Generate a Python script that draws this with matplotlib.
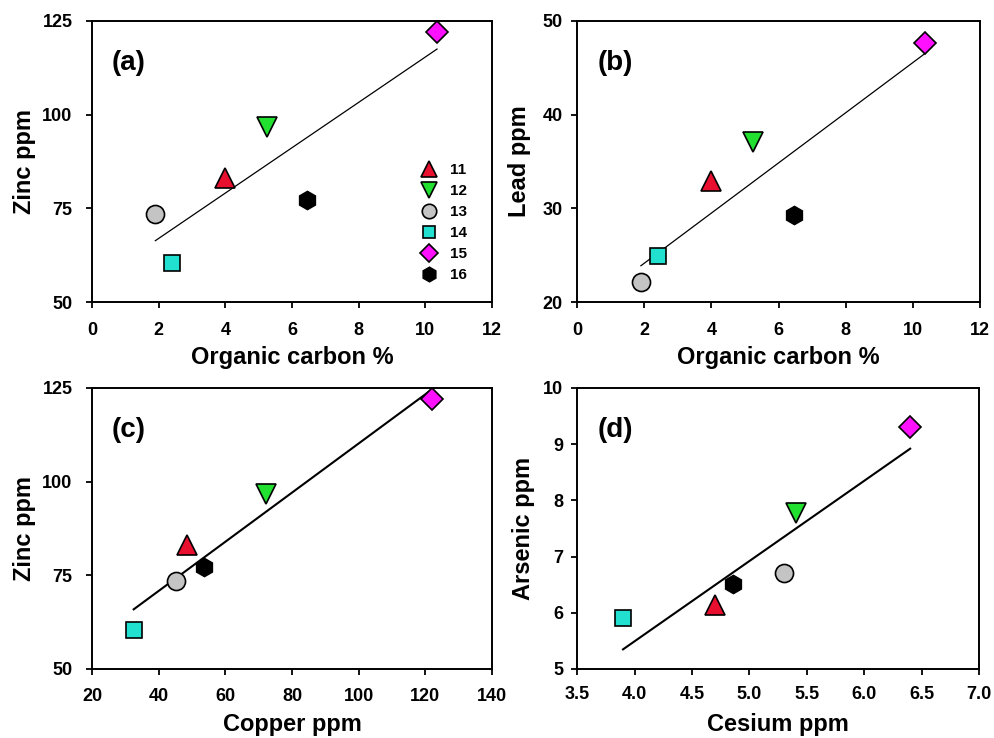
import numpy as np
import matplotlib
matplotlib.use('Agg')
import matplotlib.pyplot as plt

plt.rcParams['font.family'] = ['Liberation Sans', 'DejaVu Sans']
plt.rcParams['font.weight'] = 'bold'

sites = ['11', '12', '13', '14', '15', '16']
markers = ['^', 'v', 'o', 's', 'D', 'h']
colors = ['#e8102e', '#22e030', '#c4c4c4', '#22e0d0', '#ff10ff', '#000000']

# values
org_carbon = [4.0, 5.25, 1.9, 2.4, 10.35, 6.45]
zinc = [83.0, 96.7, 73.6, 60.4, 122.0, 77.2]
lead = [32.9, 37.1, 22.2, 24.9, 47.6, 29.3]
copper = [48.5, 72.3, 45.3, 32.5, 122.0, 53.5]
cesium = [4.70, 5.41, 5.30, 3.90, 6.40, 4.86]
arsenic = [6.13, 7.78, 6.70, 5.90, 9.31, 6.51]

panels = [
    ('(a)', org_carbon, zinc, 'Organic carbon %', 'Zinc ppm', (0, 12), np.arange(0, 13, 2), (50, 125), [50, 75, 100, 125], 0.9),
    ('(b)', org_carbon, lead, 'Organic carbon %', 'Lead ppm', (0, 12), np.arange(0, 13, 2), (20, 50), [20, 30, 40, 50], 0.9),
    ('(c)', copper, zinc, 'Copper ppm', 'Zinc ppm', (20, 140), np.arange(20, 141, 20), (50, 125), [50, 75, 100, 125], 1.5),
    ('(d)', cesium, arsenic, 'Cesium ppm', 'Arsenic ppm', (3.5, 7.0), np.arange(3.5, 7.01, 0.5), (5, 10), [5, 6, 7, 8, 9, 10], 1.5),
]

positions = [
    [0.0925, 0.5904, 0.402, 0.3816],
    [0.580, 0.5904, 0.405, 0.3816],
    [0.0925, 0.0935, 0.402, 0.381],
    [0.580, 0.0935, 0.404, 0.381],
]
ylabel_x = [-0.14, -0.115, -0.14, -0.105]
ypad = [10, 6.5, 10, 6]
xpad = [10, 10, 10, 8]

fig = plt.figure(figsize=(9.95, 7.38), dpi=100)

for i, (tag, xv, yv, xlab, ylab, xlim, xt, ylim, yt, lw) in enumerate(panels):
    ax = fig.add_axes(positions[i])
    # regression line over the data range
    k, b = np.polyfit(xv, yv, 1)
    xx = np.array([min(xv), max(xv)])
    ax.plot(xx, k * xx + b, color='black', lw=lw, zorder=2)
    for j in range(len(sites)):
        if markers[j] in ('^', 'v'):
            ms = 14
        elif markers[j] in ('s', 'D'):
            ms = 11.5
        else:
            ms = 13
        ax.plot(xv[j], yv[j], marker=markers[j], ms=ms, color=colors[j],
                mec='black', mew=1.2, ls='none', label=sites[j], zorder=3)
    ax.set_xlim(xlim)
    ax.set_ylim(ylim)
    ax.set_xticks(xt)
    ax.set_yticks(yt)
    if tag == '(d)':
        ax.set_xticklabels(['%.1f' % t for t in xt])
    else:
        ax.set_xticklabels(['%d' % t for t in xt])
    ax.tick_params(direction='out', length=4, width=1.3, labelsize=13)
    ax.tick_params(axis='y', pad=ypad[i])
    ax.tick_params(axis='x', pad=xpad[i])
    for lab in ax.get_xticklabels() + ax.get_yticklabels():
        lab.set_fontweight('bold')
    for s in ax.spines.values():
        s.set_linewidth(1.4)
    ax.set_xlabel(xlab, fontsize=17, fontweight='bold')
    ax.set_ylabel(ylab, fontsize=17, fontweight='bold')
    ax.xaxis.set_label_coords(0.5, -0.155)
    ax.yaxis.set_label_coords(ylabel_x[i], 0.5)
    ax.text(0.05, 0.85, tag, transform=ax.transAxes, fontsize=20,
            fontweight='bold', va='center', ha='left')
    if tag == '(a)':
        ax.legend(loc='upper left', bbox_to_anchor=(0.8, 0.52), frameon=False,
                  prop={'size': 11, 'weight': 'bold'}, handletextpad=0.8,
                  labelspacing=0.45, handlelength=1.2, markerscale=0.8,
                  borderpad=0)

fig.savefig('out.png', dpi=100)
